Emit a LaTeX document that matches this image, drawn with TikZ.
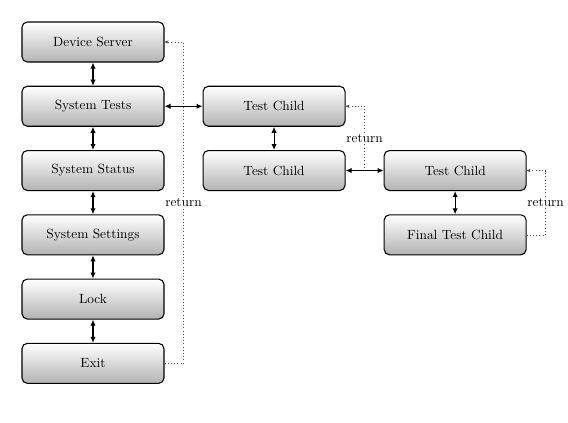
\documentclass[tikz,border=0pt]{standalone}
\usepackage{xcolor}
\usepackage{tikz}
\usetikzlibrary{arrows.meta,positioning,calc}

\begin{document}
\begin{tikzpicture}[x=0.75pt, y=0.75pt,
    menubox/.style={draw, thick, rounded corners=4pt, minimum width=106.5pt, minimum height=30pt,
      top color=white, bottom color=black!30},
    link/.style={{Latex[length=4.5pt,width=4pt]}-{Latex[length=4.5pt,width=4pt]}, thick},
    back/.style={-{Stealth[length=3pt,width=2.5pt]}, dotted, black!70},
    lbl/.style={fill=white, text=black, inner sep=1pt}]
  \useasboundingbox (-93,42) rectangle (475,-380);

  % Main menu column
  \node[menubox] (dev) at (0,0) {Device Server};
  \node[menubox, below=17.4pt of dev] (tests) {System Tests};
  \node[menubox, below=17.4pt of tests] (status) {System Status};
  \node[menubox, below=17.4pt of status] (settings) {System Settings};
  \node[menubox, below=17.4pt of settings] (lock) {Lock};
  \node[menubox, below=17.4pt of lock] (exit) {Exit};

  % Child levels
  \node[menubox, right=28.5pt of tests] (childA) {Test Child};
  \node[menubox, below=17.4pt of childA] (childB) {Test Child};
  \node[menubox, right=28.5pt of childB] (childC) {Test Child};
  \node[menubox, below=17.4pt of childC] (final) {Final Test Child};

  % Navigation arrows
  \draw[link] (dev) -- (tests);
  \draw[link] (tests) -- (status);
  \draw[link] (status) -- (settings);
  \draw[link] (settings) -- (lock);
  \draw[link] (lock) -- (exit);
  \draw[link] (tests) -- (childA);
  \draw[link] (childA) -- (childB);
  \draw[link] (childB) -- (childC);
  \draw[link] (childC) -- (final);

  % Return paths
  \coordinate (midBC) at ($(childB.east)!0.5!(childC.west)$);
  \draw[back] (exit.east) -- ++(19,0) |- node[lbl, pos=0.25] {return} (dev.east);
  \draw[back] (midBC) |- node[lbl, pos=0.25] {return} (childA.east);
  \draw[back] (final.east) -- ++(19,0) |- node[lbl, pos=0.25] {return} (childC.east);
\end{tikzpicture}
\end{document}
